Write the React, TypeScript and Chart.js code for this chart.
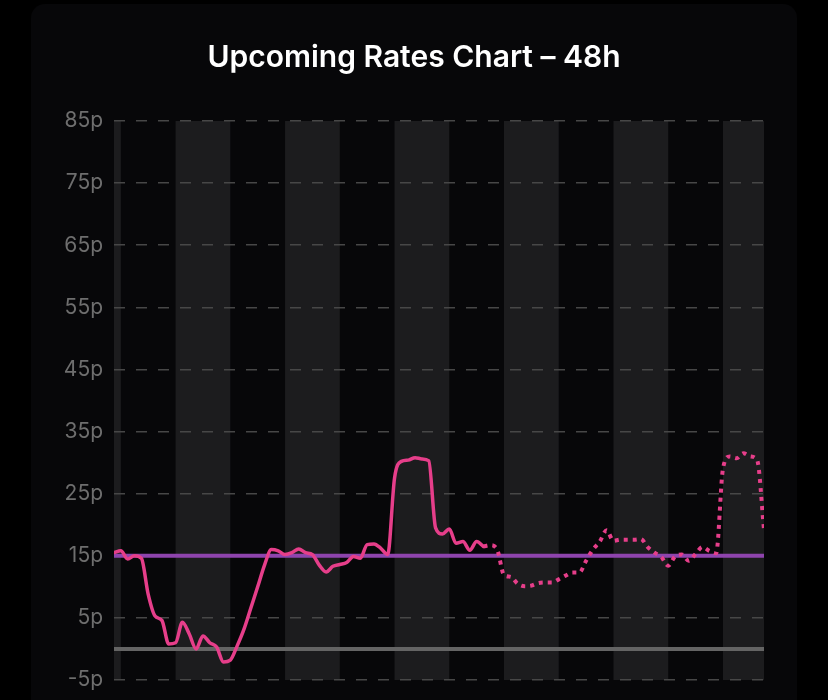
import React, { useEffect, useRef } from "react";
import { Chart, registerables } from "chart.js";

Chart.register(...registerables);

// Half-hourly unit rates (pence) — known (solid) part, slots 0..54
const actualRates = [
  15.5, 15.8, 14.5, 15.0, 14.6, 8.8, 5.3, 4.6, 0.8, 1.0,
  4.3, 2.4, 0.0, 2.1, 1.0, 0.3, -2.1, -1.8, 0.5, 3.2,
  6.6, 10.0, 13.5, 16.0, 15.8, 15.2, 15.5, 16.1, 15.5, 15.2,
  13.5, 12.4, 13.3, 13.6, 13.9, 14.9, 14.6, 16.8, 16.9, 16.2,
  15.2, 27.5, 30.2, 30.4, 30.8, 30.6, 30.3, 19.5, 18.5, 19.3,
  17.0, 17.3, 15.9, 17.3, 16.5,
];

// Forecast (dotted) part, slots 54..95
const forecastRates = [
  16.5, 16.7, 16.0, 11.9, 11.6, 10.5, 10.1, 10.2, 10.6, 10.7,
  10.7, 11.2, 11.8, 12.3, 12.3, 14.2, 16.0, 17.3, 19.1, 17.4,
  17.6, 17.6, 17.6, 17.7, 16.4, 15.5, 14.8, 13.4, 14.9, 15.2,
  14.2, 15.3, 16.4, 15.8, 15.4, 29.0, 31.0, 30.7, 31.5, 31.0,
  30.4, 19.2,
];

const FORECAST_START = 54;
const LAST_SLOT = 95;

// Shaded 4-hour blocks (start slot of each block)
const bandStarts = [-7, 9, 25, 41, 57, 73, 89];
const BAND_SLOTS = 8;

const targetRate = 15;
const zeroRate = 0;

const yMin = -5;
const yMax = 85;
const yStep = 10;

const PINK = "#e63e8a";

export default function App() {
  const canvasRef = useRef<HTMLCanvasElement | null>(null);

  useEffect(() => {
    document.body.style.margin = "0";
    document.body.style.background = "#000";
    const canvas = canvasRef.current;
    if (!canvas) return;

    const bandPlugin = {
      id: "bands",
      beforeDraw(chart: any) {
        const { ctx, chartArea, scales } = chart;
        const xs = scales.x;
        ctx.save();
        ctx.beginPath();
        ctx.rect(chartArea.left, chartArea.top, chartArea.right - chartArea.left, chartArea.bottom - chartArea.top);
        ctx.clip();
        ctx.fillStyle = "#1c1c1e";
        bandStarts.forEach((s) => {
          const x0 = xs.getPixelForValue(s);
          const x1 = xs.getPixelForValue(s + BAND_SLOTS);
          ctx.fillRect(x0, chartArea.top, x1 - x0, chartArea.bottom - chartArea.top);
        });
        ctx.restore();
      },
    };

    const chart = new Chart(canvas, {
      type: "line",
      data: {
        datasets: [
          {
            label: "Actual",
            data: actualRates.map((v, i) => ({ x: i, y: v })),
            borderColor: PINK,
            borderWidth: 3.5,
            pointRadius: 0,
            cubicInterpolationMode: "monotone",
            borderJoinStyle: "round",
            borderCapStyle: "round",
          },
          {
            label: "Forecast",
            data: forecastRates.map((v, i) => ({ x: i + FORECAST_START, y: v })),
            borderColor: PINK,
            borderWidth: 4,
            borderDash: [4, 5],
            pointRadius: 0,
            cubicInterpolationMode: "monotone",
          },
          {
            label: "Target",
            data: [
              { x: 0, y: targetRate },
              { x: LAST_SLOT, y: targetRate },
            ],
            borderColor: "#8e44ad",
            borderWidth: 4,
            pointRadius: 0,
          },
          {
            label: "Zero",
            data: [
              { x: 0, y: zeroRate },
              { x: LAST_SLOT, y: zeroRate },
            ],
            borderColor: "#646464",
            borderWidth: 4,
            borderCapStyle: "round",
            pointRadius: 0,
          },
        ],
      },
      options: {
        animation: false,
        responsive: false,
        layout: { padding: { left: 32, right: 32, top: 0, bottom: 20 } },
        plugins: {
          legend: { display: false },
          tooltip: { enabled: false },
          title: {
            display: true,
            text: "Upcoming Rates Chart – 48h",
            color: "#ffffff",
            font: { family: "Inter", size: 30, weight: "600" },
            padding: { top: 40, bottom: 45 },
          },
        },
        scales: {
          x: { type: "linear", min: 0, max: LAST_SLOT, display: false },
          y: {
            min: yMin,
            max: yMax,
            ticks: {
              stepSize: yStep,
              callback: (v: any) => `${v}p`,
              color: "#6e6e6e",
              font: { family: "Inter", size: 21 },
              padding: 11,
            },
            grid: { color: "#474747", lineWidth: 1.5, drawTicks: false },
            border: { display: false, dash: [11, 11] },
            afterFit: (s: any) => {
              s.width = 82;
              s.paddingTop = 0;
              s.paddingBottom = 0;
            },
          },
          yR: {
            type: "linear",
            position: "right",
            display: true,
            grid: { display: false },
            ticks: { display: false },
            border: { display: false },
            afterFit: (s: any) => {
              s.width = 32;
            },
          },
        },
      },
      plugins: [bandPlugin],
    } as any);

    return () => chart.destroy();
  }, []);

  return (
    <div style={{ position: "fixed", left: 0, top: 0, width: 828, height: 700, overflow: "hidden", background: "#000" }}>
      <div
        style={{
          position: "absolute",
          left: 31,
          top: 4,
          width: 766,
          height: 800,
          borderRadius: 14,
          background: "#070709",
        }}
      />
      <canvas
        ref={canvasRef}
        width={828}
        height={700}
        style={{ position: "absolute", left: 0, top: 0, width: 828, height: 700 }}
      />
    </div>
  );
}
